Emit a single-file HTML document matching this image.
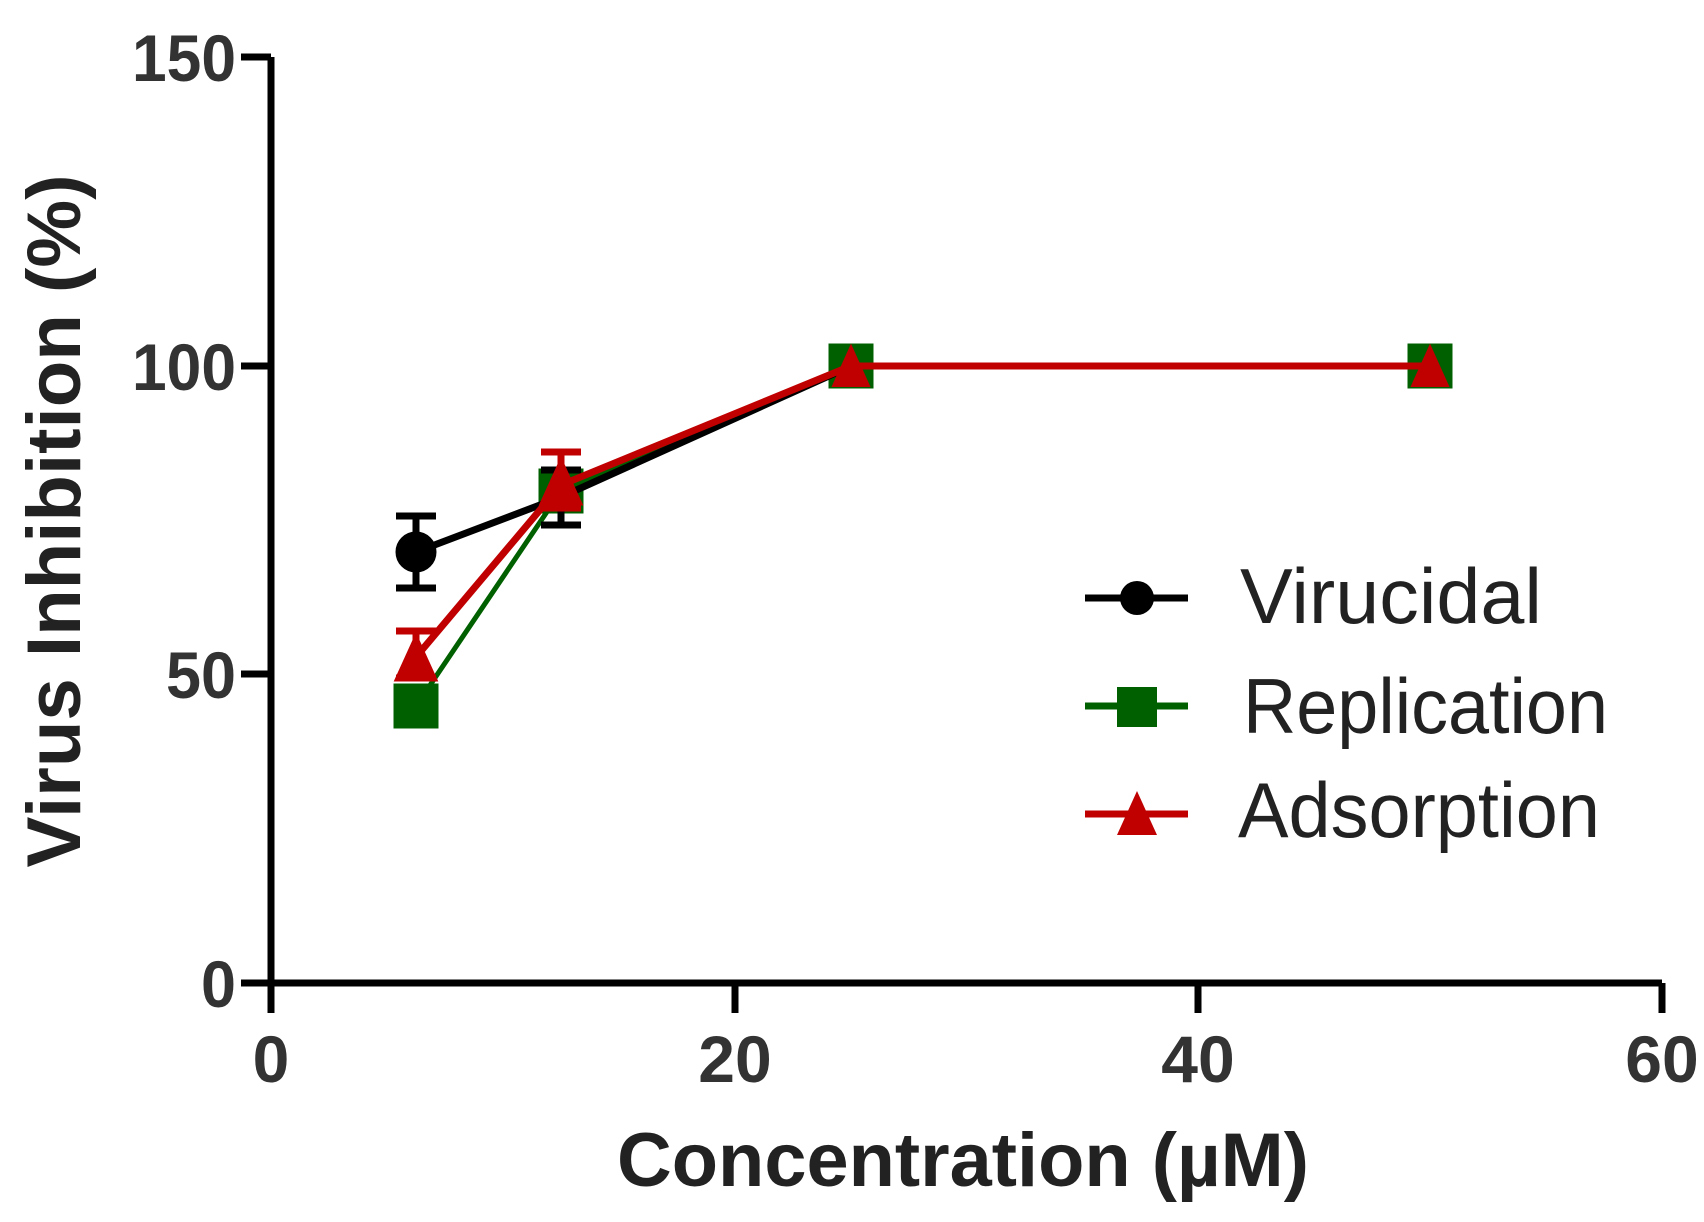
<!DOCTYPE html><html><head><style>body{margin:0;background:#fff}svg{display:block}</style></head><body>
<svg width="1704" height="1222" xmlns="http://www.w3.org/2000/svg" font-family="Liberation Sans, sans-serif">
<rect width="1704" height="1222" fill="#fff"/>
<g stroke="#000" stroke-width="7" fill="none">
<path d="M271,57 V1013 M241,983 H1662 M241,57 H271 M241,674 H271 M241,366 H271 M735,983 V1013 M1198,983 V1013 M1662,983 V1013"/>
</g>
<g font-weight="bold" font-size="66" fill="#333" text-anchor="end">
<text x="236" y="81" textLength="104" lengthAdjust="spacingAndGlyphs">150</text>
<text x="236" y="390" textLength="104" lengthAdjust="spacingAndGlyphs">100</text>
<text x="236" y="698" textLength="70" lengthAdjust="spacingAndGlyphs">50</text>
<text x="236" y="1007" textLength="35" lengthAdjust="spacingAndGlyphs">0</text>
</g>
<g font-weight="bold" font-size="66" fill="#333" text-anchor="middle">
<text x="271" y="1082">0</text><text x="735" y="1082">20</text><text x="1198" y="1082">40</text><text x="1662" y="1082">60</text>
</g>
<text x="963" y="1186" font-weight="bold" font-size="76" fill="#222" text-anchor="middle" textLength="692" lengthAdjust="spacingAndGlyphs">Concentration (µM)</text>
<text transform="translate(80,521) rotate(-90)" font-weight="bold" font-size="76" fill="#222" text-anchor="middle" textLength="693" lengthAdjust="spacingAndGlyphs">Virus Inhibition (%)</text>
<g stroke="#006000" stroke-width="5" fill="#006000">
<polyline fill="none" points="416,706 561,491 851,366 1430,366"/>
<rect x="396" y="686" width="40" height="40"/><rect x="541" y="471" width="40" height="40"/><rect x="831" y="346" width="40" height="40"/><rect x="1410" y="346" width="40" height="40"/>
</g>
<g stroke="#000" stroke-width="7" fill="#000">
<polyline fill="none" points="416,552 561,497 851,366"/>
<path d="M416,516 V588 M396,516 H436 M396,588 H436 M561,470 V525 M541,525 H581 M541,470 H581" />
<circle cx="416" cy="552" r="17"/>
</g>
<g stroke="#c00000" stroke-width="7" fill="#c00000">
<polyline fill="none" points="416,657 561,485 851,366 1430,366"/>
<path d="M416,631 V678 M396,631 H436 M396,678 H436 M561,452 V508 M541,452 H581 M541,508 H581"/>
<polygon stroke-width="3" points="416,636 396,680 436,680"/><polygon stroke-width="3" points="561,460 541,504 581,504"/>
<polygon stroke-width="2" points="851,346 833,386 869,386"/><polygon stroke-width="2" points="1430,346 1412,386 1448,386"/>
</g>
<path d="M1085,598 H1188" stroke="#000" stroke-width="7"/><circle cx="1137" cy="598" r="17"/>
<path d="M1085,706 H1188" stroke="#006000" stroke-width="7"/><rect x="1117" y="687" width="40" height="40" fill="#006000"/>
<path d="M1085,814 H1188" stroke="#c00000" stroke-width="7"/><polygon points="1137,791 1117,835 1157,835" fill="#c00000"/>
<g font-size="78" fill="#222">
<text x="1240" y="623" textLength="302" lengthAdjust="spacingAndGlyphs">Virucidal</text>
<text x="1243" y="733" textLength="365" lengthAdjust="spacingAndGlyphs">Replication</text>
<text x="1238" y="837" textLength="362" lengthAdjust="spacingAndGlyphs">Adsorption</text>
</g>
</svg></body></html>
